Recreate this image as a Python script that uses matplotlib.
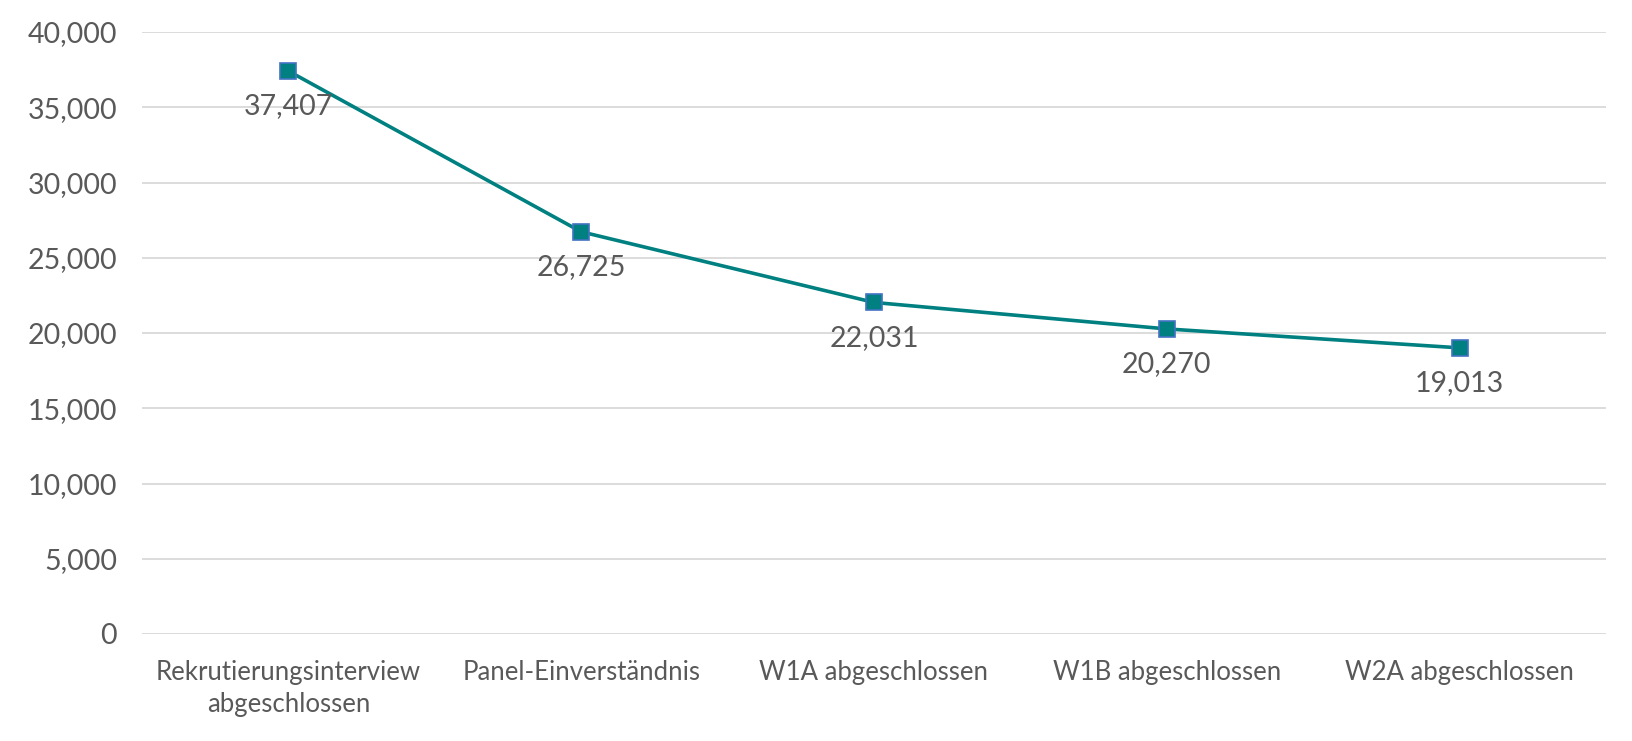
import matplotlib
matplotlib.use('Agg')
import matplotlib.pyplot as plt
from matplotlib.ticker import FuncFormatter

plt.rcParams['font.family'] = ['Lato', 'DejaVu Sans']

categories = ['Rekrutierungsinterview\nabgeschlossen', 'Panel-Einverständnis',
              'W1A abgeschlossen', 'W1B abgeschlossen', 'W2A abgeschlossen']
values = [37407, 26725, 22031, 20270, 19013]
y_ticks = [0, 5000, 10000, 15000, 20000, 25000, 30000, 35000, 40000]

text_color = '#595959'
line_color = '#008080'

fig = plt.figure(figsize=(16.33, 7.41), dpi=100)
ax = fig.add_axes([142 / 1633, 1 - 634 / 741, (1606 - 142) / 1633, (634 - 32) / 741])

x = list(range(len(categories)))
ax.plot(x, values, color=line_color, linewidth=2.6, marker='s', markersize=11,
        markerfacecolor=line_color, markeredgecolor='#4472C4', markeredgewidth=1.2, zorder=3)

for xi, v in zip(x, values):
    ax.annotate(f'{v:,}', (xi, v), xytext=(0, -25.5), textcoords='offset points',
                ha='center', va='center', fontsize=20.5, color=text_color)

ax.set_xlim(-0.5, len(categories) - 0.5)
ax.set_ylim(0, 40000)
ax.set_yticks(y_ticks)
ax.yaxis.set_major_formatter(FuncFormatter(lambda v, p: f'{int(v):,}'))
ax.set_xticks(x)
ax.set_xticklabels(categories, linespacing=1.35)

ax.grid(axis='y', color='#D9D9D9', linewidth=1.3)
ax.set_axisbelow(True)
for s in ax.spines.values():
    s.set_visible(False)
ax.tick_params(axis='y', length=0, pad=18, labelsize=20.5, labelcolor=text_color)
ax.tick_params(axis='x', length=0, pad=19, labelsize=18.5, labelcolor=text_color)

fig.savefig('out.png', dpi=100, facecolor='white')
